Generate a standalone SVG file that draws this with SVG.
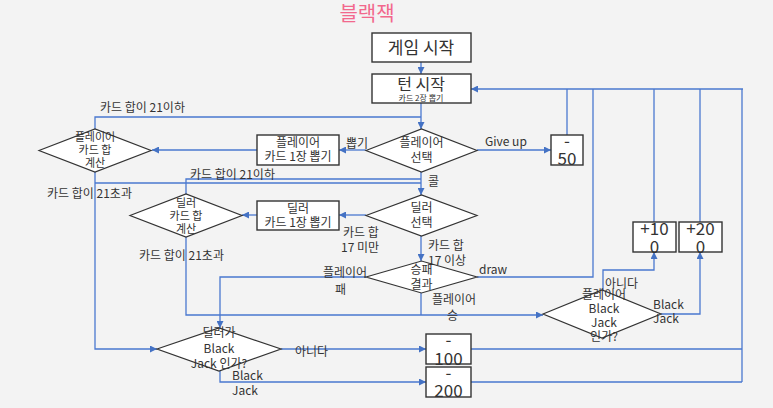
<svg xmlns="http://www.w3.org/2000/svg" width="773" height="408" viewBox="0 0 773 408">
<defs>
<marker id="ah" viewBox="0 0 10 10" refX="10" refY="5" markerWidth="7" markerHeight="7" markerUnits="userSpaceOnUse" orient="auto"><path d="M0,0 L10,5 L0,10 z" fill="#4472c4"/></marker>
<style>
.ln{fill:none;stroke:#4a78cf;stroke-width:1.3}
.arr{fill:none;stroke:#4a78cf;stroke-width:1.3;marker-end:url(#ah)}
.box{fill:#fff;stroke:#333;stroke-width:1.4}
.dia{fill:#fff;stroke:#333;stroke-width:1.2}
text{font-family:"Noto Sans CJK KR","Noto Sans",sans-serif;fill:#333}
.t17{font-size:17px;text-anchor:middle}
.t11{font-size:11px;text-anchor:middle}
.t12{font-size:12px;text-anchor:middle}
.lb{font-size:12px}
</style>
</defs>
<rect width="773" height="408" fill="#f3f3f3"/>
<text x="367" y="21" font-size="20" text-anchor="middle" style="fill:#f2688c">블랙잭</text>

<g id="connectors">
<path class="arr" d="M421,62 V74"/>
<path class="arr" d="M421,103 V129"/>
<path class="ln" d="M95,129 V117 H421"/>
<path class="arr" d="M366,150 H339"/>
<path class="arr" d="M257,150 H152"/>
<path class="arr" d="M477,150 H551"/>
<path class="arr" d="M421,172 V195"/>
<path class="ln" d="M95,183 H421"/>
<path class="ln" d="M186,194 V179 H421"/>
<path class="arr" d="M95,172 V349 H157"/>
<path class="arr" d="M366,215 H339"/>
<path class="arr" d="M257,215 H242"/>
<path class="arr" d="M421,236 V261"/>
<path class="arr" d="M186,237 V315 H543"/>
<path class="ln" d="M421,293 V315"/>
<path class="arr" d="M366,277 H220 V328"/>
<path class="ln" d="M477,277 H593 V89"/>
<path class="arr" d="M743,89 H471"/>
<path class="ln" d="M567,135 V89"/>
<path class="ln" d="M654,222 V89"/>
<path class="ln" d="M700,222 V89"/>
<path class="ln" d="M471,349 H742 M471,382 H742 M742,382 V89"/>
<path class="arr" d="M603,290 V270 H654 V252"/>
<path class="arr" d="M661,314 H700 V252"/>
<path class="arr" d="M281,349 H426"/>
<path class="arr" d="M220,371 V382 H426"/>
</g>

<g id="n-start"><rect class="box" x="372" y="33" width="99" height="29"/><text class="t17" x="421" y="54">게임 시작</text></g>
<g id="n-turn"><rect class="box" x="372" y="74" width="99" height="29"/><text x="421" y="90" font-size="16" text-anchor="middle">턴 시작</text><text x="421" y="101" font-size="8" text-anchor="middle">카드 2장 뽑기</text></g>
<g id="n-psel"><path class="dia" d="M366,150.5 L421.5,129 L477,150.5 L421.5,172 z"/><text class="t12" x="421.5" y="147">플레이어</text><text class="t12" x="421.5" y="162">선택</text></g>
<g id="n-pdraw"><rect class="box" x="257" y="135" width="82" height="30"/><text class="t12" x="298" y="147">플레이어</text><text class="t12" x="298" y="161">카드 1장 뽑기</text></g>
<g id="n-pcalc"><path class="dia" d="M39,150.5 L95,129 L151,150.5 L95,172 z"/><text class="t11" x="95" y="141">플레이어</text><text class="t11" x="95" y="154">카드 합</text><text class="t11" x="95" y="167">계산</text></g>
<g id="n-m50"><rect class="box" x="551" y="135" width="32" height="30"/><text class="t17" x="567" y="147">-</text><text class="t17" x="567" y="165">50</text></g>
<g id="n-dsel"><path class="dia" d="M366,215.5 L421.5,195 L477,215.5 L421.5,236 z"/><text class="t12" x="421.5" y="212">딜러</text><text class="t12" x="421.5" y="227">선택</text></g>
<g id="n-ddraw"><rect class="box" x="257" y="201" width="82" height="29"/><text class="t12" x="298" y="213">딜러</text><text class="t12" x="298" y="227">카드 1장 뽑기</text></g>
<g id="n-dcalc"><path class="dia" d="M130,215.5 L186,194 L242,215.5 L186,237 z"/><text class="t11" x="186" y="207">딜러</text><text class="t11" x="186" y="220">카드 합</text><text class="t11" x="186" y="233">계산</text></g>
<g id="n-result"><path class="dia" d="M366,277 L421.5,261 L477,277 L421.5,293 z"/><text class="t12" x="421.5" y="274">승패</text><text class="t12" x="421.5" y="289">결과</text></g>
<g id="n-pbj"><path class="dia" d="M543,314 L602,290 L661,314 L602,338 z"/><text class="t12" x="604" y="299">플레이어</text><text class="t12" x="604" y="313">Black</text><text class="t12" x="604" y="327">Jack</text><text class="t12" x="604" y="341">인가?</text></g>
<g id="n-p100"><rect class="box" x="633" y="222" width="43" height="30"/><text class="t17" x="654.5" y="235">+10</text><text class="t17" x="654.5" y="253">0</text></g>
<g id="n-p200"><rect class="box" x="679" y="222" width="43" height="30"/><text class="t17" x="700.5" y="235">+20</text><text class="t17" x="700.5" y="253">0</text></g>
<g id="n-dbj"><path class="dia" d="M157,349 L219,328 L281,349 L219,371 z"/><text class="t12" x="219" y="337">딜러가</text><text class="t12" x="219" y="353">Black</text><text class="t12" x="219" y="368">Jack 인가?</text></g>
<g id="n-m100"><rect class="box" x="426" y="334" width="45" height="30"/><text class="t17" x="448.5" y="346">-</text><text class="t17" x="448.5" y="365">100</text></g>
<g id="n-m200"><rect class="box" x="426" y="367" width="45" height="30"/><text class="t17" x="448.5" y="379">-</text><text class="t17" x="448.5" y="397">200</text></g>

<g id="labels">
<text class="lb" x="100" y="112">카드 합이 21이하</text>
<text class="lb" x="346" y="148">뽑기</text>
<text class="lb" x="485" y="146">Give up</text>
<text class="lb" x="47" y="198">카드 합이 21초과</text>
<text class="lb" x="190" y="179">카드 합이 21이하</text>
<text class="lb" x="428" y="186">콜</text>
<text class="lb" x="343" y="237">카드 합</text>
<text class="lb" x="341" y="252">17 미만</text>
<text class="lb" x="139" y="260">카드 합이 21초과</text>
<text class="lb" x="428" y="250">카드 합</text>
<text class="lb" x="428" y="265">17 이상</text>
<text class="lb" x="479" y="274">draw</text>
<text class="lb" x="323" y="277">플레이어</text>
<text class="lb" x="335" y="294">패</text>
<text class="lb" x="432" y="304">플레이어</text>
<text class="lb" x="447" y="320">승</text>
<text class="lb" x="605" y="288">아니다</text>
<text class="lb" x="653" y="309">Black</text>
<text class="lb" x="653" y="323">Jack</text>
<text class="lb" x="295" y="356">아니다</text>
<text class="lb" x="232" y="380">Black</text>
<text class="lb" x="232" y="395">Jack</text>
</g>
</svg>
